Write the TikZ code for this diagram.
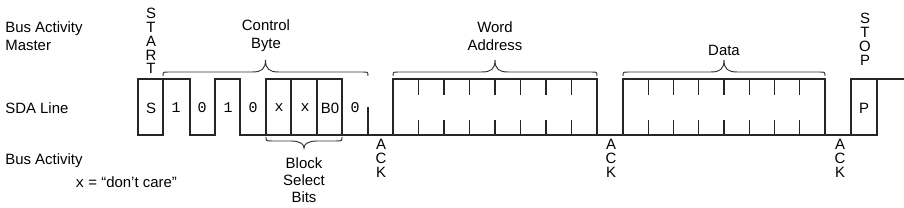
\documentclass[tikz,border=0pt]{standalone}
\usepackage{fontspec}
\setmainfont{Liberation Sans}
\setmonofont{Liberation Mono}

% brace over (or under) a field: x1, x2, y of the ends, sign, tip length
\newcommand{\fieldbrace}[5]{%
  \pgfmathsetmacro{\bmid}{(#1+#2)/2}
  \draw[brc] (#1,#3) .. controls (#1,#3+#4*4) .. (#1+6,#3+#4*4)
    -- (\bmid-13,#3+#4*4) .. controls (\bmid-4,#3+#4*4) and (\bmid,#3+#4*7) .. (\bmid,#3+#4*#5)
    .. controls (\bmid,#3+#4*7) and (\bmid+4,#3+#4*4) .. (\bmid+13,#3+#4*4)
    -- (#2-6,#3+#4*4) .. controls (#2,#3+#4*4) .. (#2,#3);
}

\begin{document}
\begin{tikzpicture}[
  x=0.02cm, y=-0.02cm,
  wave/.style={draw, black!85, line width=0.8pt},
  brc/.style={draw, black!80, line width=0.55pt},
  lbl/.style={font=\fontsize{8.5}{10.2}\selectfont, inner sep=0pt},
  bit/.style={font=\fontsize{8.5}{10}\selectfont\ttfamily, inner sep=0pt},
  vtxt/.style={font=\fontsize{8.5}{7.9}\selectfont, align=center, inner sep=0pt}
]
  \useasboundingbox (0,0) rectangle (904,208);
  \def\hi{79} \def\lo{135}

  % left side labels
  \node[lbl, align=left, anchor=west] (master) at (5,36) {Bus Activity\\Master};
  \node[lbl, anchor=west] (sda) at (5,108) {SDA Line};
  \node[lbl, anchor=west] (slave) at (5,161) {Bus Activity};
  \node[lbl, anchor=west] (dc) at (75,182) {{\ttfamily x} = “don't care”};

  % SDA waveform
  \draw[wave] (138,\hi) rectangle (163,\lo);
  \draw[wave] (163,\hi) -- (190,\hi) -- (190,\lo) -- (215,\lo) -- (215,\hi)
    -- (240,\hi) -- (240,\lo) -- (266,\lo);
  \draw[wave] (266,\hi) rectangle (342,\lo);
  \foreach \x in {291,317} \draw[wave] (\x,\hi) -- (\x,\lo);
  \draw[wave] (342,\lo) -- (393,\lo);
  \draw[wave] (368,107) -- (368,\lo);
  \draw[wave] (393,\hi) rectangle (597,\lo);
  \draw[wave] (597,\lo) -- (623,\lo);
  \draw[wave] (623,\hi) rectangle (825,\lo);
  \foreach \k in {1,...,7} {
    \draw[wave] ({393+25.5*\k},\hi) -- ++(0,16) ({393+25.5*\k},120) -- ({393+25.5*\k},\lo);
    \draw[wave] ({623+25.25*\k},\hi) -- ++(0,16) ({623+25.25*\k},120) -- ({623+25.25*\k},\lo);
  }
  \draw[wave] (825,\lo) -- (877,\lo) -- (877,\hi);
  \draw[wave] (851,\lo) -- (851,\hi) -- (904,\hi);

  % bit labels
  \node[lbl] (bS) at (151,108) {S};
  \foreach \x/\t/\nm in {176/1/b7, 202/0/b6, 228/1/b5, 253/0/b4,
                         279/x/b3, 305/x/b2, 355/0/b0}
    {\node[bit] (\nm) at (\x,108) {\t};}
  \node[lbl] (b1) at (330,108) {B0};
  \node[lbl] (bP) at (864,108) {P};

  % braces and field names
  \fieldbrace{163}{368}{76}{-1}{16}
  \fieldbrace{393}{597}{76}{-1}{16}
  \fieldbrace{623}{825}{76}{-1}{16}
  \fieldbrace{266}{342}{137}{1}{11}
  \node[lbl, align=center] (ctrl) at (266,36) {Control\\Byte};
  \node[lbl, align=center] (word) at (495,36) {Word\\Address};
  \node[lbl] (data) at (724,50) {Data};
  \node[lbl, align=center, font=\fontsize{8.5}{9.6}\selectfont] (blk) at (304,180) {Block\\Select\\Bits};

  % start, stop, ack
  \node[vtxt] (start) at (151,41) {S\\T\\A\\R\\T};
  \node[vtxt] (stop) at (865,39) {S\\T\\O\\P};
  \foreach \x/\nm in {381/ack1, 611/ack2, 840/ack3}
    {\node[vtxt] (\nm) at (\x,158) {A\\C\\K};}
\end{tikzpicture}
\end{document}
